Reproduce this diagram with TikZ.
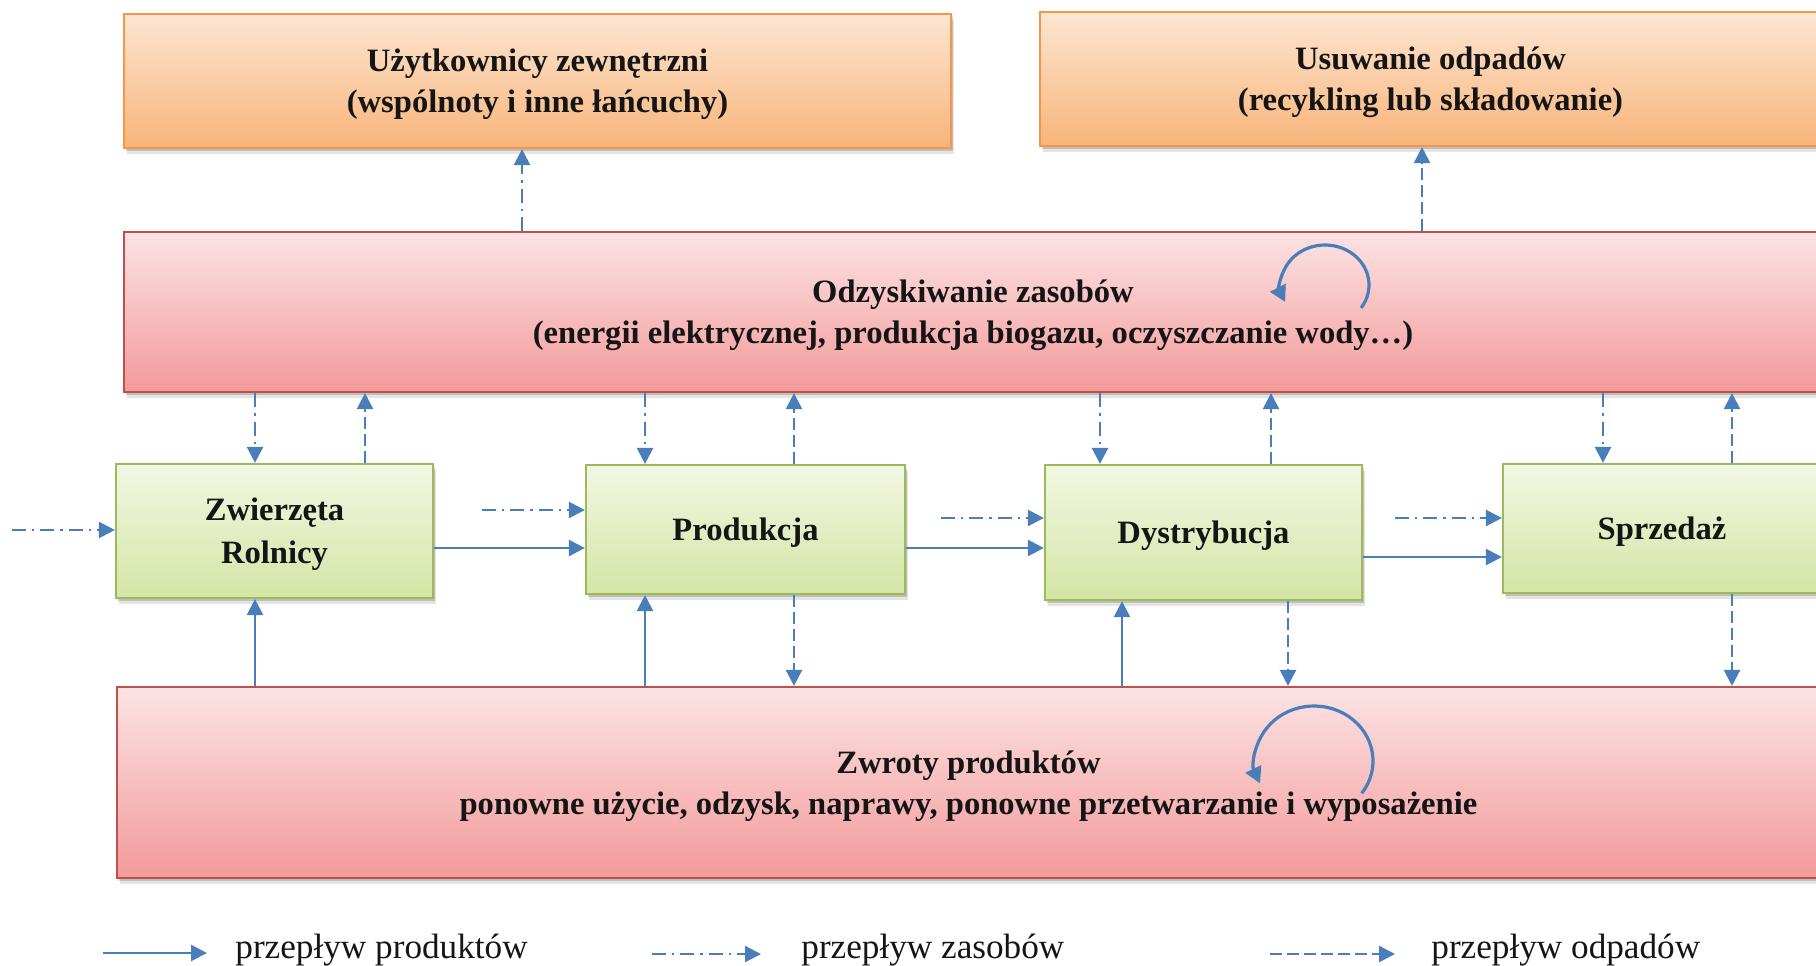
\documentclass[tikz,border=0pt]{standalone}
\usepackage{fontspec}
\setmainfont{Liberation Serif}
\usetikzlibrary{arrows.meta,shadows,calc}

\definecolor{flow}{HTML}{4A7EBB}
\definecolor{orgLine}{HTML}{F79646}
\definecolor{orgTop}{HTML}{FCE6D2}
\definecolor{orgBot}{HTML}{F8B47A}
\definecolor{pnkLine}{HTML}{C0504D}
\definecolor{pnkTop}{HTML}{FCE3E4}
\definecolor{pnkBot}{HTML}{F39A9A}
\definecolor{grnLine}{HTML}{9BBB59}
\definecolor{grnTop}{HTML}{F2F7E3}
\definecolor{grnBot}{HTML}{D4E5A5}
\definecolor{ink}{HTML}{151515}

\begin{document}
\begin{tikzpicture}[
  x=0.5pt, y=-0.5pt,
  boxshadow/.style={
    drop shadow={shadow xshift=0.8pt, shadow yshift=-1.5pt, opacity=0.25, fill=black!70},
    drop shadow={shadow xshift=1.6pt, shadow yshift=-3.2pt, opacity=0.15, fill=black!70}},
  box/.style={boxshadow, draw, line width=1.1pt, inner sep=0pt},
  boxlabel/.style={align=center, inner sep=0pt, yshift=-1.6pt, text=ink,
    font=\bfseries\fontsize{16.3}{20.5}\selectfont},
  orangebox/.style={box, draw=orgLine, top color=orgTop, bottom color=orgBot},
  pinkbox/.style={box, draw=pnkLine, top color=pnkTop, bottom color=pnkBot},
  greenbox/.style={box, draw=grnLine, top color=grnTop, bottom color=grnBot},
  prodflow/.style={draw=flow, line width=1.2pt, -{Triangle[length=8pt,width=8pt]}},
  resflow/.style={prodflow, dash pattern=on 7pt off 3pt on 1.2pt off 3pt},
  wasteflow/.style={prodflow, dash pattern=on 6pt off 2.5pt},
  ringflow/.style={draw=flow, line width=1.6pt, -{Triangle[length=8pt,width=8.5pt]}},
  legendtext/.style={anchor=west, inner sep=0pt, text=ink, font=\fontsize{17.6}{20}\selectfont}
]
\fill[white] (0,0) rectangle (1816,965);
\useasboundingbox (0,0) rectangle (1816,965);

% outer receivers
\node[orangebox, minimum width=413.5pt, minimum height=67pt,
  label={[boxlabel]center:{Użytkownicy zewnętrzni\\(wspólnoty i inne łańcuchy)}}] (ext) at (537.5,81) {};
\node[orangebox, minimum width=390.5pt, minimum height=67pt,
  label={[boxlabel]center:{Usuwanie odpadów\\(recykling lub składowanie)}}] (disp) at (1430.5,79) {};

% resource recovery layer
\node[pinkbox, minimum width=849pt, minimum height=80pt,
  label={[boxlabel]center:{Odzyskiwanie zasobów\\(energii elektrycznej, produkcja biogazu, oczyszczanie wody…)}}] (rec) at (973,312) {};

% supply chain stages
\node[greenbox, minimum width=158.5pt, minimum height=67pt,
  label={[boxlabel, font=\bfseries\fontsize{16.3}{21.5}\selectfont]center:{Zwierzęta\\Rolnicy}}] (farm) at (274.5,531) {};
\node[greenbox, minimum width=159.5pt, minimum height=64.5pt,
  label={[boxlabel]center:Produkcja}] (make) at (745.5,529.5) {};
\node[greenbox, minimum width=158.5pt, minimum height=67.5pt,
  label={[boxlabel]center:Dystrybucja}] (dist) at (1203.5,532.5) {};
\node[greenbox, minimum width=159pt, minimum height=64.5pt,
  label={[boxlabel]center:Sprzedaż}] (sale) at (1662,528.5) {};

% product returns layer
\node[pinkbox, minimum width=851.5pt, minimum height=95.5pt,
  label={[boxlabel]center:{Zwroty produktów\\ponowne użycie, odzysk, naprawy, ponowne przetwarzanie i wyposażenie}}] (ret) at (968.5,782.5) {};

% columns and rows used by the connectors
\coordinate (k1) at (255,0);
\coordinate (k2) at (365,0);
\coordinate (k3) at (645,0);
\coordinate (k4) at (794,0);
\coordinate (k5) at (1100,0);
\coordinate (k6) at (1271,0);
\coordinate (k7) at (1603,0);
\coordinate (k8) at (1732,0);
\coordinate (k9) at (1122,0);
\coordinate (k10) at (1288,0);
\coordinate (k11) at (522,0);
\coordinate (k12) at (1422,0);
\coordinate (rowA) at (0,548);
\coordinate (rowB) at (0,557);
\coordinate (src) at (12,530);
\coordinate (rs1) at (482,510);
\coordinate (rs2) at (941,518);
\coordinate (rs3) at (1395,518);

% recovery layer to the outer receivers
\draw[resflow] (rec.north -| k11) -- (ext.south -| k11);
\draw[wasteflow] (rec.north -| k12) -- (disp.south -| k12);

% recovery layer <-> stages
\draw[resflow] (rec.south -| k1) -- (farm.north -| k1);
\draw[wasteflow] (farm.north -| k2) -- (rec.south -| k2);
\draw[resflow] (rec.south -| k3) -- (make.north -| k3);
\draw[wasteflow] (make.north -| k4) -- (rec.south -| k4);
\draw[resflow] (rec.south -| k5) -- (dist.north -| k5);
\draw[wasteflow] (dist.north -| k6) -- (rec.south -| k6);
\draw[resflow] (rec.south -| k7) -- (sale.north -| k7);
\draw[wasteflow] (sale.north -| k8) -- (rec.south -| k8);

% flows along the chain
\draw[resflow] (src) -- (farm.west |- src);
\draw[resflow] (rs1) -- (make.west |- rs1);
\draw[resflow] (rs2) -- (dist.west |- rs2);
\draw[resflow] (rs3) -- (sale.west |- rs3);
\draw[prodflow] (farm.east |- rowA) -- (make.west |- rowA);
\draw[prodflow] (make.east |- rowA) -- (dist.west |- rowA);
\draw[prodflow] (dist.east |- rowB) -- (sale.west |- rowB);

% returns layer <-> stages
\draw[prodflow] (ret.north -| k1) -- (farm.south -| k1);
\draw[prodflow] (ret.north -| k3) -- (make.south -| k3);
\draw[wasteflow] (make.south -| k4) -- (ret.north -| k4);
\draw[prodflow] (ret.north -| k9) -- (dist.south -| k9);
\draw[wasteflow] (dist.south -| k10) -- (ret.north -| k10);
\draw[wasteflow] (sale.south -| k8) -- (ret.north -| k8);

% circulation symbols inside the layers
\coordinate (loopA) at (1325,285);
\coordinate (loopB) at (1314,761);
\draw[ringflow] ($(loopA)+(35:44 and 40)$) arc[start angle=35, end angle=-205, x radius=44, y radius=40];
\draw[ringflow] ($(loopB)+(36:59 and 55)$) arc[start angle=36, end angle=-204, x radius=59, y radius=55];

% legend
\coordinate (la1) at (103,953);
\coordinate (la2) at (207,953);
\coordinate (lb1) at (652,954);
\coordinate (lb2) at (761,954);
\coordinate (lc1) at (1270,954);
\coordinate (lc2) at (1395,954);
\draw[prodflow] (la1) -- (la2);
\draw[resflow] (lb1) -- (lb2);
\draw[wasteflow] (lc1) -- (lc2);
\node[legendtext] (lt1) at (235,950) {przepływ produktów};
\node[legendtext] (lt2) at (801,950) {przepływ zasobów};
\node[legendtext] (lt3) at (1431,950) {przepływ odpadów};
\end{tikzpicture}
\end{document}
